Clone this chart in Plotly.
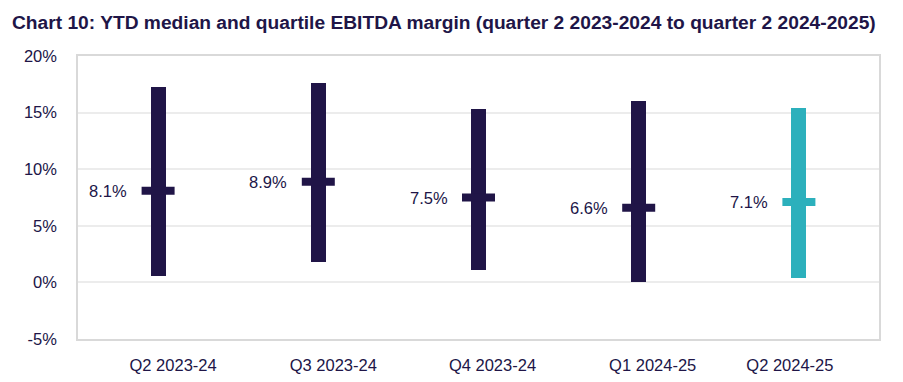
import plotly.graph_objects as go

categories = ["Q2 2023-24", "Q3 2023-24", "Q4 2023-24", "Q1 2024-25", "Q2 2024-25"]
lower_quartile = [0.6, 1.8, 1.1, 0.0, 0.4]
upper_quartile = [17.3, 17.6, 15.3, 16.0, 15.4]
median = [8.1, 8.9, 7.5, 6.6, 7.1]
median_labels = ["8.1%", "8.9%", "7.5%", "6.6%", "7.1%"]
y_ticks = [-5, 0, 5, 10, 15, 20]

NAVY = "#201547"
TEAL = "#2cb0bc"
colors = [NAVY, NAVY, NAVY, NAVY, TEAL]
label_shift_px = [15, 15, 14, 14, -9]  # Excel-style label offsets
cat_px = 801 / 5
PAGE_OFF = 8  # default body margin of the page

x = list(range(len(categories)))

fig = go.Figure()
fig.add_trace(go.Bar(
    x=x,
    y=[u - l for u, l in zip(upper_quartile, lower_quartile)],
    base=lower_quartile,
    width=15 / cat_px,
    marker=dict(color=colors, line=dict(width=0)),
    hoverinfo="skip",
    showlegend=False,
))
fig.add_trace(go.Scatter(
    x=x,
    y=median,
    mode="markers",
    marker=dict(symbol="line-ew", size=33 / 1.4, color=colors,
                line=dict(width=8, color=colors)),
    showlegend=False,
))

for xi, m, lab in zip(x, median, median_labels):
    fig.add_annotation(x=xi, y=m, text=lab, showarrow=False,
                       xanchor="right", yanchor="middle", xshift=-29,
                       font=dict(family="Liberation Sans, Arial", size=16.5, color=NAVY))

fig.update_layout(
    width=903, height=382,
    margin=dict(l=78 - PAGE_OFF, r=24 + PAGE_OFF, t=56 - PAGE_OFF, b=43 + PAGE_OFF),
    paper_bgcolor="white", plot_bgcolor="white",
    title=dict(text="<b>Chart 10: YTD median and quartile EBITDA margin (quarter 2 2023-2024 to quarter 2 2024-2025)</b>",
               x=(12 - PAGE_OFF) / 903, xanchor="left",
               y=1 - (22 - PAGE_OFF) / 382, yanchor="middle",
               font=dict(family="Liberation Sans, Arial", size=19.2, color=NAVY)),
    font=dict(family="Liberation Sans, Arial", size=16.5, color=NAVY),
    bargap=0,
)
fig.update_xaxes(
    range=[-0.5, len(categories) - 0.5],
    tickvals=[i + s / cat_px for i, s in zip(x, label_shift_px)],
    ticktext=categories,
    showgrid=False, zeroline=False,
    showline=True, linecolor="#d9d9d9", linewidth=1.5, mirror=True,
    ticks="", ticklabelstandoff=10,
    tickfont=dict(size=16.5, color=NAVY),
)
fig.update_yaxes(
    range=[-5, 20],
    tickvals=y_ticks,
    ticktext=[f"{v}%" for v in y_ticks],
    showgrid=True, gridcolor="#ececec", gridwidth=1.5,
    zeroline=False,
    showline=True, linecolor="#d9d9d9", linewidth=1.5, mirror=True,
    ticks="", ticklabelstandoff=16,
    tickfont=dict(size=16.5, color=NAVY),
)

fig.write_html("out.html")
